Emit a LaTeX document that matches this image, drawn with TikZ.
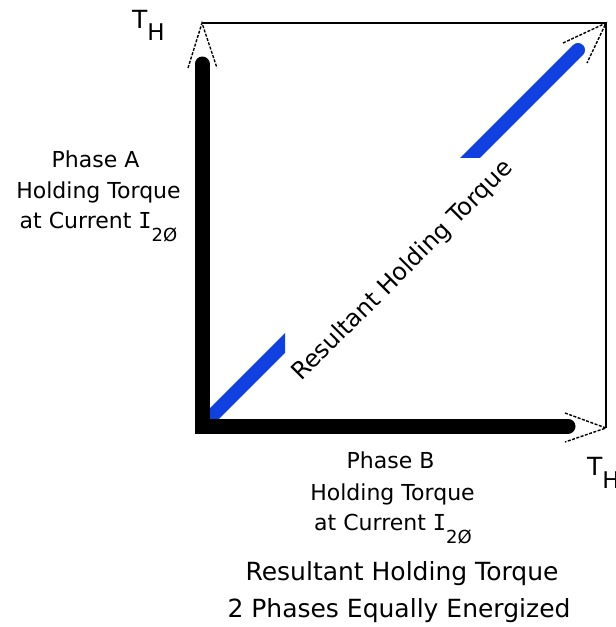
\documentclass[tikz,border=0pt]{standalone}
\usepackage{fontspec}
\setmainfont{DejaVu Sans}
\newfontfamily\serifI{DejaVu Sans Mono}
\definecolor{vecblue}{RGB}{16,64,224}
\tikzset{
  axisbar/.style={line width=15pt, line cap=round, line join=miter},
  resbar/.style={line width=14pt, draw=vecblue, line cap=round},
  openhead/.style={line width=1.4pt, dash pattern=on 3pt off 1.5pt},
  frameline/.style={line width=2pt, line join=miter},
  lbl/.style={inner sep=0pt, anchor=base, font=\fontsize{22}{26}\selectfont},
  biglbl/.style={inner sep=0pt, anchor=base, font=\fontsize{25}{30}\selectfont},
  thlbl/.style={inner sep=0pt, anchor=base west, font=\fontsize{25}{30}\selectfont},
}
\newcommand{\Icur}{{\serifI I}\raisebox{-13pt}{\fontsize{18}{18}\selectfont 2Ø}}
\newcommand{\THsym}[1]{T\raisebox{-#1pt}{\fontsize{23}{23}\selectfont H}}
\begin{document}
\begin{tikzpicture}[x=1pt,y=-1pt]
\useasboundingbox (0,0) rectangle (616,627);
% key points
\coordinate (O) at (202,426);
\coordinate (A) at (202,23);
\coordinate (C) at (606,23);
\coordinate (B) at (606,428);
\coordinate (Atop) at (202,64);
\coordinate (Bend) at (568,426);
\coordinate (R) at (578,50);
\coordinate (ha1) at (188,68);
\coordinate (ha2) at (217,68);
\coordinate (hb1) at (565,413);
\coordinate (hb2) at (565,442);
\coordinate (hr1) at (563,43);
\coordinate (hr2) at (587,63);
% resultant (blue), interrupted by its label
\begin{scope}
  \clip (0,0) rectangle (285,627);
  \draw[resbar] (O) -- (R);
\end{scope}
\begin{scope}
  \clip (0,0) rectangle (616,157);
  \draw[resbar] (O) -- (R);
\end{scope}
% phase vectors
\draw[axisbar] (Atop) -- (O) -- (Bend);
% open dashed arrowheads
\draw[openhead] (ha1) -- (A) -- (ha2);
\draw[openhead] (hb1) -- (B) -- (hb2);
\draw[openhead] (hr1) -- (C) -- (hr2);
% frame
\draw[frameline] (A) -- (C) -- (B);
% labels
\node[thlbl] (th1) at (132,28) {\THsym{12}};
\node[thlbl] (th2) at (587,475) {\THsym{13}};
\node[lbl] (pa1) at (95.5,167) {Phase A};
\node[lbl] (pa2) at (98.5,198) {Holding Torque};
\node[lbl] (pa3) at (98.5,228) {at Current \Icur};
\node[lbl] (pb1) at (390.5,468) {Phase B};
\node[lbl] (pb2) at (392.5,500) {Holding Torque};
\node[lbl] (pb3) at (393,530) {at Current \Icur};
\node[biglbl] (t1) at (402,580) {Resultant Holding Torque};
\node[biglbl] (t2) at (399,617) {2 Phases Equally Energized};
\node[inner sep=0pt, rotate=45, font=\fontsize{24}{28}\selectfont] (res) at (403,271) {Resultant Holding Torque};
\end{tikzpicture}
\end{document}
